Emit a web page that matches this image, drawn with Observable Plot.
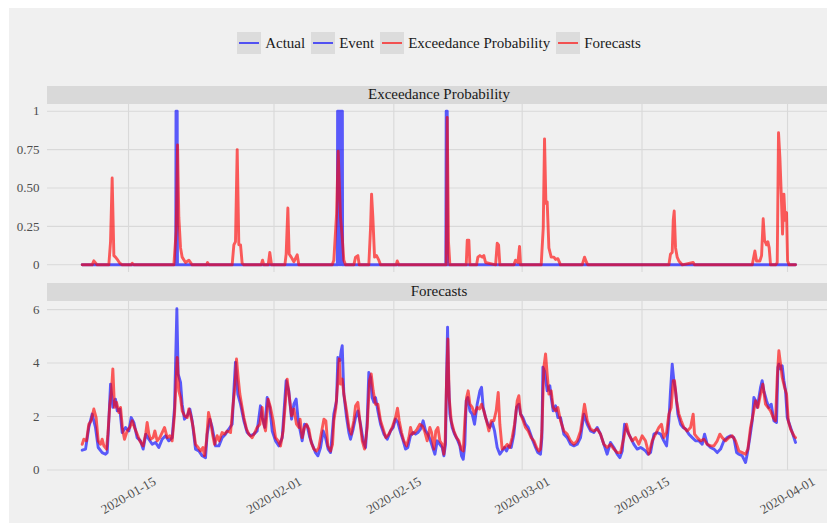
<!DOCTYPE html>
<html><head><meta charset="utf-8">
<script src="https://cdn.jsdelivr.net/npm/d3@7"></script>
<script src="https://cdn.jsdelivr.net/npm/@observablehq/plot@0.6"></script>
<style>
html,body{margin:0;padding:0;background:#fff;}
#root{position:relative;width:827px;height:523px;overflow:hidden;font-family:"Liberation Serif",serif;}
#bg{position:absolute;left:9px;top:8px;width:818px;height:515px;background:#f0f0f0;}
.strip{position:absolute;left:47px;width:784px;height:17.5px;background:#d9d9d9;color:#1a1a1a;font-size:15px;line-height:17.5px;text-align:center;}
#legend{position:absolute;top:32px;left:0;width:878px;height:22px;display:flex;justify-content:center;align-items:center;font-size:15px;color:#1a1a1a;}
.item{display:flex;align-items:center;margin:0 3px;}
.key{width:24px;height:22px;background:#dcdcdc;position:relative;margin-right:4px;}
.key span{position:absolute;left:2px;right:2px;top:9.6px;height:2.8px;}
.panel{position:absolute;left:0;}
</style></head>
<body><div id="root"><div id="bg"></div>
<div id="legend"></div>
<div class="strip" style="top:86px">Exceedance Probability</div>
<div class="strip" style="top:283px">Forecasts</div>
<div class="panel" id="topPanel" style="top:103px"></div>
<div class="panel" id="bottomPanel" style="top:300px"></div>
</div>
<script>
// days since 2020-01-01 (UTC), value
const event = [[8.59,0],[19.52,0],[19.55,1],[19.62,0],[19.69,1],[19.72,0],[38.40,0],[38.43,1],[38.50,0],[38.57,1],[38.64,0],[38.71,1],[38.78,0],[38.85,1],[38.92,0],[38.99,1],[39.02,0],[51.08,0],[51.12,1],[51.18,0],[51.24,1],[51.28,0],[91.94,0]];

const exceedance = [[8.59,0],[9.75,0],[9.95,0.026],[10.34,0],[11.70,0],[11.90,0.15],[12.09,0.565],[12.29,0.06],[12.48,0.05],[12.75,0.03],[12.99,0.01],[13.26,0],[14.30,0],[14.43,0.01],[14.62,0],[19.30,0],[19.57,0.22],[19.73,0.78],[19.88,0.31],[20.08,0.11],[20.27,0.05],[20.66,0.015],[21.05,0.03],[21.44,0],[23.11,0],[23.23,0.015],[23.39,0],[26.11,0],[26.31,0.13],[26.50,0.15],[26.70,0.75],[26.89,0.13],[27.09,0.13],[27.28,0.01],[27.48,0],[29.50,0],[29.66,0.03],[29.81,0],[30.32,0],[30.51,0.08],[30.71,0],[32.27,0],[32.42,0.07],[32.62,0.37],[32.77,0.07],[33.01,0.05],[33.32,0.02],[33.71,0.065],[33.90,0],
[37.80,0],[37.99,0.03],[38.31,0.33],[38.50,0.74],[38.77,0.31],[38.97,0.18],[39.16,0.03],[39.36,0],[40.33,0],[40.53,0.05],[40.80,0.06],[40.96,0],[42.08,0],[42.28,0.24],[42.40,0.46],[42.55,0.31],[42.75,0.05],[42.98,0.06],[43.25,0.03],[43.45,0],[45.28,0],[45.40,0.025],[45.59,0],[51.12,0],[51.24,0.96],[51.39,0.15],[51.55,0],[53.46,0],[53.58,0.16],[53.77,0.16],[53.89,0],[54.67,0],[54.82,0.05],[55.06,0.06],[55.33,0.05],[55.52,0.06],[55.72,0.015],[56.89,0],[57.08,0.14],[57.24,0.13],[57.39,0],[59.03,0],[59.22,0.03],[59.50,0.015],[59.69,0.12],[59.81,0],[62.22,0],[62.46,0.24],[62.61,0.82],[62.77,0.40],[62.92,0.41],[63.12,0.11],[63.39,0.05],[63.70,0.05],[63.90,0.035],[64.17,0.04],[64.48,0],
[67.01,0],[67.28,0.05],[67.52,0.015],[67.67,0],[77.14,0],[77.33,0.07],[77.53,0.08],[77.65,0.29],[77.76,0.35],[77.92,0.11],[78.11,0.05],[78.31,0.025],[78.70,0],[79.98,0.015],[80.14,0],[86.88,0],[87.19,0.09],[87.38,0.025],[87.77,0.025],[87.97,0.06],[88.16,0.30],[88.32,0.16],[88.55,0.13],[88.71,0.15],[88.86,0.11],[89.02,0],[89.60,0],[89.80,0.015],[89.95,0.86],[90.11,0.70],[90.27,0.46],[90.42,0.20],[90.58,0.46],[90.73,0.29],[90.89,0.34],[91.01,0.025],[91.20,0],[91.94,0]];

const actual = [[8.59,0.74],[8.98,0.78],[9.36,1.59],[9.75,2.09],[10.14,1.59],[10.46,0.84],[10.92,0.65],[11.31,0.59],[11.51,0.65],[11.70,1.84],[11.90,3.21],[12.17,2.34],[12.48,2.65],[12.68,2.21],[12.99,2.28],[13.26,1.40],[13.65,1.59],[14.04,1.46],[14.31,1.96],[14.62,1.78],[15.01,1.21],[15.40,1.09],[15.71,0.78],[16.03,1.34],[16.38,1.15],[16.77,0.96],[17.16,1.03],[17.54,0.84],[17.93,1.15],[18.32,1.28],[18.71,1.09],[19.10,1.21],[19.38,2.34],[19.65,6.03],[19.80,3.59],[20.08,3.28],[20.27,2.46],[20.54,1.90],[20.86,2.03],[21.17,2.28],[21.44,1.84],[21.83,0.78],[22.22,0.71],[22.61,0.53],[23.00,0.46],[23.19,1.34],[23.50,1.90],[23.78,1.59],[24.17,0.90],[24.56,0.90],[24.94,1.21],[25.33,1.34],[25.72,1.53],[26.11,1.71],[26.31,2.96],[26.50,4.03],[26.77,2.84],[27.09,2.46],[27.48,1.84],[27.87,1.40],[28.26,1.28],[28.65,1.34],[29.03,1.46],[29.42,2.40],[29.62,1.96],[29.93,1.59],[30.20,2.71],[30.51,2.34],[30.79,1.46],[31.18,1.09],[31.57,0.90],[31.96,1.21],[32.15,2.09],[32.42,3.34],[32.73,2.96],[33.05,1.90],[33.32,2.46],[33.59,2.65],[33.83,1.84],
[34.29,1.09],[34.57,1.71],[34.88,1.65],[35.19,1.21],[35.46,0.96],[35.85,0.65],[36.13,0.53],[36.44,0.84],[36.75,1.46],[37.02,1.21],[37.33,0.78],[37.61,0.65],[37.80,1.34],[37.99,2.09],[38.31,2.59],[38.46,4.21],[38.70,4.09],[38.85,4.46],[38.97,4.65],[39.16,2.84],[39.48,1.96],[39.75,1.40],[39.94,1.15],[40.25,1.53],[40.53,1.96],[40.80,2.21],[41.11,1.71],[41.42,1.09],[41.70,0.84],[41.89,1.84],[42.08,3.65],[42.28,3.46],[42.47,2.71],[42.67,2.53],[42.86,2.71],[43.14,2.21],[43.45,1.71],[43.84,1.34],[44.23,1.15],[44.62,1.46],[44.93,1.59],[45.20,1.90],[45.47,1.78],[45.79,1.40],[46.10,1.09],[46.37,0.78],[46.64,0.84],[46.95,1.28],[47.27,1.40],[47.54,1.34],[47.81,1.40],[48.12,1.53],[48.43,1.84],[48.71,1.46],[48.98,1.34],[49.29,1.09],[49.60,0.78],[49.80,0.59],[50.07,1.09],[50.38,0.96],[50.65,0.84],[50.85,0.53],[51.04,0.96],[51.16,3.34],[51.28,5.34],[51.39,3.46],[51.55,2.09],[51.82,1.59],[52.09,1.34],[52.41,1.15],[52.72,0.90],[52.91,0.53],[53.11,0.40],[53.30,0.96],[53.46,2.59],[53.65,2.71],[53.89,2.21],[54.16,2.09],[54.43,1.71],[54.74,2.46],[55.06,2.96],[55.25,3.09],[55.44,2.34],[55.72,1.96],[55.99,1.71],[56.22,1.59],[56.50,1.78],[56.77,1.46],[57.08,0.84],[57.39,0.59],[57.66,0.71],[57.94,0.84],[58.17,0.71],[58.44,0.90],[58.72,0.84],[59.03,1.34],[59.34,2.34],[59.61,2.46],[59.81,2.09],[60.08,1.96],[60.39,1.71],[60.70,1.59],[60.98,1.34],[61.25,1.09],[61.56,0.84],[61.83,0.65],[62.14,0.59],[62.30,1.21],[62.42,3.84],[62.61,3.71],[62.92,2.96],[63.23,3.15],[63.39,2.71],[63.62,2.21],[63.90,2.40],[64.17,1.96],
[64.48,1.96],[64.87,1.34],[65.26,1.21],[65.65,0.96],[66.04,0.90],[66.43,0.96],[66.82,1.21],[67.21,2.09],[67.60,1.71],[67.99,1.46],[68.38,1.40],[68.76,1.59],[69.15,1.34],[69.54,0.96],[69.93,0.59],[70.32,1.03],[70.71,0.84],[71.10,0.59],[71.41,0.46],[71.69,0.71],[71.96,1.71],[72.27,1.46],[72.66,1.21],[73.05,0.96],[73.44,0.78],[73.83,0.84],[74.14,0.78],[74.41,0.71],[74.69,0.59],[75.00,0.65],[75.39,1.34],[75.78,1.40],[76.17,1.34],[76.55,1.09],[76.87,0.90],[77.14,1.84],[77.33,2.96],[77.53,3.96],[77.72,3.34],[77.92,2.96],[78.19,2.09],[78.50,1.71],[78.81,1.59],[79.09,1.53],[79.48,1.34],[79.87,1.21],[80.25,1.09],[80.64,1.09],[81.03,0.96],[81.31,1.34],[81.62,0.96],[82.01,0.84],[82.40,0.78],[82.79,0.65],[83.18,0.78],[83.57,1.09],[83.96,1.21],[84.34,1.28],[84.73,1.21],[85.05,0.65],[85.32,0.59],[85.71,0.53],[86.10,0.28],[86.29,0.59],[86.60,1.21],[86.88,1.84],[87.07,2.71],[87.27,2.59],[87.46,2.34],[87.66,2.71],[87.85,3.09],[88.04,3.34],[88.24,2.96],[88.55,2.59],[88.82,2.34],[89.10,2.46],[89.41,1.84],[89.72,1.78],[89.88,3.84],[89.99,3.96],[90.19,3.78],[90.38,3.90],[90.58,3.34],[90.77,2.96],[90.97,1.96],[91.36,1.59],[91.75,1.21],[91.94,1.03]];

const forecasts = [[8.59,0.96],[8.78,1.15],[9.09,1.09],[9.36,1.71],[9.64,1.84],[9.95,2.28],[10.22,1.96],[10.46,1.09],[10.73,0.96],[10.92,1.15],[11.12,0.90],[11.43,0.78],[11.59,1.34],[11.82,2.46],[12.01,2.96],[12.17,3.78],[12.36,2.34],[12.60,2.53],[12.87,2.15],[13.07,2.34],[13.30,1.53],[13.53,1.15],[13.84,1.46],[14.16,1.59],[14.43,1.84],[14.70,1.59],[15.01,1.34],[15.32,1.09],[15.71,0.90],[16.03,1.40],[16.18,1.78],[16.38,1.34],[16.57,1.15],[16.88,1.21],[17.08,1.46],[17.35,1.09],[17.66,1.21],[17.93,1.40],[18.21,1.59],[18.52,1.21],[18.83,1.28],[19.10,1.09],[19.38,2.09],[19.69,4.21],[19.88,2.96],[20.08,2.71],[20.27,2.21],[20.54,2.03],[20.86,1.96],[21.05,2.28],[21.24,2.09],[21.56,1.59],[21.83,0.96],[22.14,0.84],[22.41,0.71],[22.69,0.84],[22.88,0.53],[23.11,1.09],[23.35,2.15],[23.58,1.84],[23.82,1.34],[24.05,0.96],[24.36,1.28],[24.59,1.09],[24.94,1.40],[25.22,1.34],[25.53,1.46],[25.92,1.40],[26.19,2.34],[26.43,3.09],[26.62,4.15],[26.81,3.46],[27.01,2.84],[27.24,2.40],[27.48,1.96],[27.79,1.53],[28.06,1.34],[28.45,1.21],[28.76,1.40],[29.03,1.59],[29.35,1.71],[29.62,2.34],[29.81,1.71],[30.01,1.46],[30.32,2.65],[30.59,2.34],[30.90,1.84],[31.18,1.21],[31.49,1.09],[31.76,0.90],[32.07,1.46],[32.35,2.59],[32.54,3.40],[32.77,2.78],[33.05,2.03],[33.32,2.28],[33.63,1.71],[33.90,1.59],[34.05,1.90],
[34.29,1.21],[34.57,1.59],[34.80,1.71],[35.07,1.53],[35.35,1.03],[35.66,0.78],[35.97,0.71],[36.24,0.84],[36.51,1.34],[36.83,1.90],[37.06,1.84],[37.29,0.90],[37.61,0.71],[37.84,0.96],[37.99,1.84],[38.23,2.34],[38.46,3.34],[38.62,4.15],[38.77,3.21],[38.97,3.40],[39.16,2.84],[39.48,2.21],[39.75,1.59],[40.02,1.34],[40.33,1.84],[40.53,2.40],[40.80,2.53],[41.03,1.84],[41.31,1.09],[41.58,0.78],[41.89,1.59],[42.16,3.34],[42.36,3.59],[42.59,2.96],[42.86,2.46],[43.14,2.46],[43.45,1.84],[43.76,1.53],[44.07,1.21],[44.42,1.34],[44.81,1.59],[45.20,1.96],[45.43,2.31],[45.63,1.84],[45.90,1.40],[46.17,1.09],[46.49,0.90],[46.76,1.21],[46.95,1.59],[47.15,1.34],[47.42,1.40],[47.73,1.53],[48.04,1.71],[48.32,1.65],[48.59,1.46],[48.90,1.09],[49.21,1.59],[49.41,1.40],[49.68,0.78],[49.91,1.46],[50.15,1.59],[50.38,1.09],[50.65,0.96],[50.85,0.59],[51.00,1.09],[51.16,3.34],[51.32,4.90],[51.47,2.71],[51.71,1.84],[52.02,1.46],[52.33,1.21],[52.60,1.09],[52.87,0.78],[53.11,0.71],[53.30,1.84],[53.50,2.71],[53.69,2.96],[53.89,2.46],[54.16,2.34],[54.43,2.09],[54.74,2.34],[55.02,2.28],[55.25,2.46],[55.52,2.21],[55.83,1.84],[56.11,1.46],[56.38,1.84],[56.69,1.84],[56.96,2.21],[57.20,2.90],[57.39,1.71],[57.66,0.78],[57.94,0.84],[58.25,0.96],[58.52,0.84],[58.83,1.21],[59.11,1.71],[59.42,2.59],[59.61,2.78],[59.81,2.09],[60.12,1.84],[60.39,1.59],[60.70,1.46],[61.05,1.21],[61.37,1.09],[61.68,0.84],[61.95,0.71],[62.14,0.78],[62.30,1.46],[62.53,3.84],[62.73,4.34],[62.92,3.59],[63.12,2.84],[63.39,2.96],[63.62,2.34],[63.90,2.21],[64.17,2.34],
[64.48,1.84],[64.87,1.46],[65.26,1.34],[65.65,1.09],[66.04,0.96],[66.43,1.09],[66.82,1.46],[67.28,2.46],[67.60,1.84],[67.99,1.53],[68.38,1.46],[68.76,1.53],[69.15,1.34],[69.54,0.96],[69.93,0.84],[70.32,0.96],[70.71,0.78],[71.10,0.65],[71.49,0.65],[71.88,1.21],[72.19,1.71],[72.46,1.34],[72.85,1.09],[73.24,1.21],[73.63,0.96],[74.02,1.28],[74.41,1.09],[74.80,0.59],[75.19,1.09],[75.58,1.34],[75.97,1.59],[76.28,1.71],[76.55,1.21],[76.87,1.40],[77.14,2.09],[77.41,2.34],[77.65,3.34],[77.80,3.34],[78.03,2.59],[78.31,2.09],[78.58,1.84],[78.89,1.59],[79.28,1.46],[79.67,1.59],[79.98,2.09],[80.14,1.34],[80.45,1.21],[80.84,1.09],[81.23,1.15],[81.62,0.96],[82.01,0.90],[82.40,0.90],[82.79,1.09],[83.10,1.34],[83.37,1.21],[83.76,1.09],[84.15,1.21],[84.54,1.28],[84.93,1.09],[85.32,0.71],[85.71,0.65],[86.10,0.59],[86.37,0.78],[86.68,1.59],[86.99,2.09],[87.27,2.59],[87.54,2.34],[87.85,2.84],[88.12,3.21],[88.43,2.46],[88.71,2.34],[89.02,2.21],[89.33,1.96],[89.60,1.84],[89.80,3.46],[89.99,4.46],[90.19,3.96],[90.38,3.46],[90.66,3.09],[90.89,2.84],[91.09,1.84],[91.36,1.53],[91.75,1.28],[91.94,1.21]];

const dateTickLabels = ["2020-01-15","2020-02-01","2020-02-15","2020-03-01","2020-03-15","2020-04-01"];
const probTicks = [0, 0.25, 0.5, 0.75, 1];
const probTickLabels = ["0", "0.25", "0.50", "0.75", "1"];
const forecastTicks = [0, 2, 4, 6];
const legendLabels = ["Actual", "Event", "Exceedance Probability", "Forecasts"];
const legendColors = ["#0000ff", "#0000ff", "#ff0000", "#ff0000"];

const BLUE = "#0000ff", RED = "#ff0000", ALPHA = 0.63, LW = 2.9, GRID = "#d9d9d9";
const t0 = Date.UTC(2020, 0, 1);
const toDate = d => new Date(t0 + d * 864e5);
const dateTicks = dateTickLabels.map(s => new Date(s + "T00:00:00Z"));
const xDomain = [new Date("2020-01-05T12:50:00Z"), new Date("2020-04-05T16:10:00Z")];
const plotStyle = {background: "transparent", fontFamily: "Liberation Serif", fontSize: "13px", color: "#4d4d4d", overflow: "visible"};

// legend
const leg = document.getElementById("legend");
legendLabels.forEach((lab, i) => {
  const it = document.createElement("div"); it.className = "item";
  it.innerHTML = `<div class="key"><span style="background:${legendColors[i]};opacity:${ALPHA}"></span></div><div>${lab}</div>`;
  leg.appendChild(it);
});

const line = (data, color) => Plot.lineY(data, {x: d => toDate(d[0]), y: d => d[1], stroke: color, strokeOpacity: ALPHA, strokeWidth: LW, strokeLinejoin: "round"});

const topPlot = Plot.plot({
  width: 827, height: 169, marginLeft: 47, marginRight: 0, marginTop: 0, marginBottom: 0,
  style: plotStyle,
  x: {type: "utc", domain: xDomain, axis: null},
  y: {domain: [-0.05, 1.05]},
  marks: [
    Plot.gridY(probTicks, {stroke: GRID, strokeOpacity: 1, strokeWidth: 1.1}),
    Plot.gridX(dateTicks, {stroke: GRID, strokeOpacity: 1, strokeWidth: 1.1}),
    Plot.axisY(probTicks, {tickSize: 0, tickPadding: 8, tickFormat: d => probTickLabels[probTicks.indexOf(d)]}),
    line(event, BLUE),
    line(exceedance, RED)
  ]
});
document.getElementById("topPanel").appendChild(topPlot);

const bottomPlot = Plot.plot({
  width: 827, height: 220, marginLeft: 47, marginRight: 0, marginTop: 0, marginBottom: 50,
  style: plotStyle,
  x: {type: "utc", domain: xDomain},
  y: {domain: [-0.02, 6.34]},
  marks: [
    Plot.gridY(forecastTicks, {stroke: GRID, strokeOpacity: 1, strokeWidth: 1.1}),
    Plot.gridX(dateTicks, {stroke: GRID, strokeOpacity: 1, strokeWidth: 1.1}),
    Plot.axisY(forecastTicks, {tickSize: 0, tickPadding: 8, tickFormat: d => String(d)}),
    Plot.axisX(dateTicks, {tickSize: 0, tickPadding: 25, tickRotate: -30, textAnchor: "middle", lineAnchor: "middle", tickFormat: d3.utcFormat("%Y-%m-%d")}),
    line(actual, BLUE),
    line(forecasts, RED)
  ]
});
document.getElementById("bottomPanel").appendChild(bottomPlot);
</script>
</body></html>
